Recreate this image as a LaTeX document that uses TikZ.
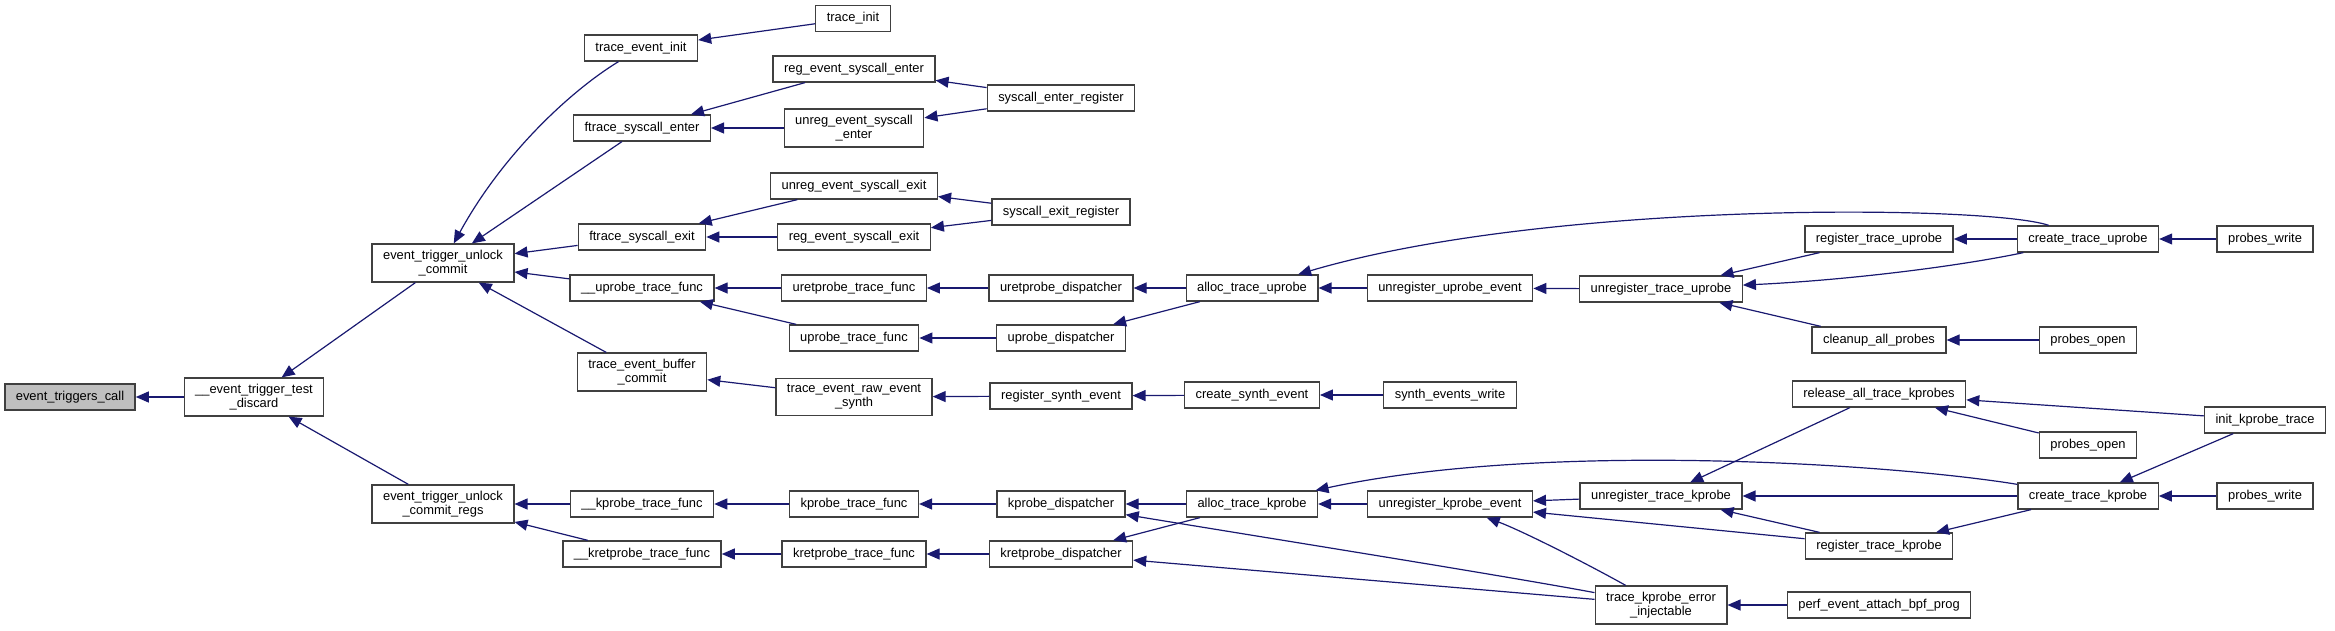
\documentclass[tikz,border=0pt]{standalone}
\usepackage{fontspec}
\setmainfont{Liberation Sans}
\usetikzlibrary{arrows.meta}
\definecolor{edgeblue}{RGB}{25,25,112}
\definecolor{boxgray}{RGB}{191,191,191}

\begin{document}
\begin{tikzpicture}[x=1pt, y=-1pt,
    fnbox/.style={draw=black!75, line width=1.3pt, fill=white, align=center,
                  inner xsep=11pt, inner ysep=6pt, minimum height=26pt,
                  font=\fontsize{12.9}{14}\selectfont},
    call/.style={-{Triangle[length=13pt, width=11pt]}, draw=edgeblue,
                 line width=1.2pt}]
  \useasboundingbox (0,0) rectangle (2335,631);

  % rank 0 and 1
  \node[fnbox, fill=boxgray] (etc) at (70,397) {event\_triggers\_call};
  \node[fnbox] (tdisc) at (254,397) {\_\_event\_trigger\_test\\\_discard};

  % rank 2
  \node[fnbox] (commit) at (443,263) {event\_trigger\_unlock\\\_commit};
  \node[fnbox] (regs) at (443,504) {event\_trigger\_unlock\\\_commit\_regs};

  % rank 3
  \node[fnbox] (tei) at (641,48) {trace\_event\_init};
  \node[fnbox] (fse) at (642,128) {ftrace\_syscall\_enter};
  \node[fnbox] (fsx) at (642,237) {ftrace\_syscall\_exit};
  \node[fnbox] (uptf) at (642,288) {\_\_uprobe\_trace\_func};
  \node[fnbox] (tebc) at (642,372) {trace\_event\_buffer\\\_commit};
  \node[fnbox] (kptf) at (642,504) {\_\_kprobe\_trace\_func};
  \node[fnbox] (krptf) at (642,554) {\_\_kretprobe\_trace\_func};

  % rank 4
  \node[fnbox] (tinit) at (853,18.5) {trace\_init};
  \node[fnbox] (rese) at (854,69) {reg\_event\_syscall\_enter};
  \node[fnbox] (urese) at (854,128) {unreg\_event\_syscall\\\_enter};
  \node[fnbox] (uresx) at (854,186) {unreg\_event\_syscall\_exit};
  \node[fnbox] (resx) at (854,237) {reg\_event\_syscall\_exit};
  \node[fnbox] (urtf) at (854,288) {uretprobe\_trace\_func};
  \node[fnbox] (utf) at (854,338) {uprobe\_trace\_func};
  \node[fnbox] (rawsyn) at (854,397) {trace\_event\_raw\_event\\\_synth};
  \node[fnbox] (ktf) at (854,504) {kprobe\_trace\_func};
  \node[fnbox] (krtf) at (854,554) {kretprobe\_trace\_func};

  % rank 5
  \node[fnbox] (senr) at (1061,98) {syscall\_enter\_register};
  \node[fnbox] (sexr) at (1061,212) {syscall\_exit\_register};
  \node[fnbox] (urd) at (1061,288) {uretprobe\_dispatcher};
  \node[fnbox] (ud) at (1061,338) {uprobe\_dispatcher};
  \node[fnbox] (rse) at (1061,396) {register\_synth\_event};
  \node[fnbox] (kd) at (1061,504) {kprobe\_dispatcher};
  \node[fnbox] (krd) at (1061,554) {kretprobe\_dispatcher};

  % rank 6 and 7
  \node[fnbox] (atu) at (1252,288) {alloc\_trace\_uprobe};
  \node[fnbox] (cse) at (1252,395) {create\_synth\_event};
  \node[fnbox] (atk) at (1252,504) {alloc\_trace\_kprobe};
  \node[fnbox] (uue) at (1450,288) {unregister\_uprobe\_event};
  \node[fnbox] (sew) at (1450,395) {synth\_events\_write};
  \node[fnbox] (uke) at (1450,504) {unregister\_kprobe\_event};

  % rank 8
  \node[fnbox] (utu) at (1661,289) {unregister\_trace\_uprobe};
  \node[fnbox] (utk) at (1661,496) {unregister\_trace\_kprobe};
  \node[fnbox] (tkei) at (1661,605) {trace\_kprobe\_error\\\_injectable};

  % rank 9
  \node[fnbox] (rtu) at (1879,239) {register\_trace\_uprobe};
  \node[fnbox] (cap) at (1879,340) {cleanup\_all\_probes};
  \node[fnbox] (ratk) at (1879,394) {release\_all\_trace\_kprobes};
  \node[fnbox] (rtk) at (1879,546) {register\_trace\_kprobe};
  \node[fnbox] (peabp) at (1879,605) {perf\_event\_attach\_bpf\_prog};

  % rank 10 and 11
  \node[fnbox] (ctu) at (2088,239) {create\_trace\_uprobe};
  \node[fnbox] (popen1) at (2088,340) {probes\_open};
  \node[fnbox] (popen2) at (2088,445) {probes\_open};
  \node[fnbox] (ctk) at (2088,496) {create\_trace\_kprobe};
  \node[fnbox] (pwrite1) at (2265,239) {probes\_write};
  \node[fnbox] (ikt) at (2265,420) {init\_kprobe\_trace};
  \node[fnbox] (pwrite2) at (2265,496) {probes\_write};

  % calls into the left part
  \draw[call] (tdisc) -- (etc);
  \draw[call] (commit) -- (tdisc);
  \draw[call] (regs) -- (tdisc);
  \draw[call] (tei) .. controls (575,88) and (505,150) .. (commit);
  \draw[call] (fse) -- (commit);
  \draw[call] (fsx) -- (commit);
  \draw[call] (uptf) -- (commit);
  \draw[call] (tebc) -- (commit);
  \draw[call] (kptf) -- (regs);
  \draw[call] (krptf) -- (regs);

  % syscall and synth calls
  \draw[call] (tinit) -- (tei);
  \draw[call] (rese) -- (fse);
  \draw[call] (urese) -- (fse);
  \draw[call] (senr) -- (rese);
  \draw[call] (senr) -- (urese);
  \draw[call] (uresx) -- (fsx);
  \draw[call] (resx) -- (fsx);
  \draw[call] (sexr) -- (uresx);
  \draw[call] (sexr) -- (resx);
  \draw[call] (rawsyn) -- (tebc);
  \draw[call] (rse) -- (rawsyn);
  \draw[call] (cse) -- (rse);
  \draw[call] (sew) -- (cse);

  % uprobe calls
  \draw[call] (urtf) -- (uptf);
  \draw[call] (utf) -- (uptf);
  \draw[call] (urd) -- (urtf);
  \draw[call] (ud) -- (utf);
  \draw[call] (atu) -- (urd);
  \draw[call] (atu) -- (ud);
  \draw[call] (uue) -- (atu);
  \draw[call] (ctu) .. controls (1990,205) and (1550,200) .. (atu);
  \draw[call] (utu) -- (uue);
  \draw[call] (rtu) -- (utu);
  \draw[call] (ctu) .. controls (1960,266) and (1850,280) .. (utu);
  \draw[call] (cap) -- (utu);
  \draw[call] (ctu) -- (rtu);
  \draw[call] (pwrite1) -- (ctu);
  \draw[call] (popen1) -- (cap);

  % kprobe calls
  \draw[call] (ktf) -- (kptf);
  \draw[call] (kd) -- (ktf);
  \draw[call] (atk) -- (kd);
  \draw[call] (tkei) .. controls (1500,575) and (1280,540) .. (kd);
  \draw[call] (krtf) -- (krptf);
  \draw[call] (krd) -- (krtf);
  \draw[call] (atk) -- (krd);
  \draw[call] (tkei) -- (krd);
  \draw[call] (uke) -- (atk);
  \draw[call] (ctk) .. controls (1900,465) and (1550,440) .. (atk);
  \draw[call] (utk) -- (uke);
  \draw[call] (rtk) -- (uke);
  \draw[call] (tkei) .. controls (1580,560) and (1520,530) .. (uke);
  \draw[call] (ratk) -- (utk);
  \draw[call] (ctk) -- (utk);
  \draw[call] (rtk) -- (utk);
  \draw[call] (ikt) -- (ratk);
  \draw[call] (popen2) -- (ratk);
  \draw[call] (ikt) -- (ctk);
  \draw[call] (pwrite2) -- (ctk);
  \draw[call] (ctk) -- (rtk);
  \draw[call] (peabp) -- (tkei);
\end{tikzpicture}
\end{document}
